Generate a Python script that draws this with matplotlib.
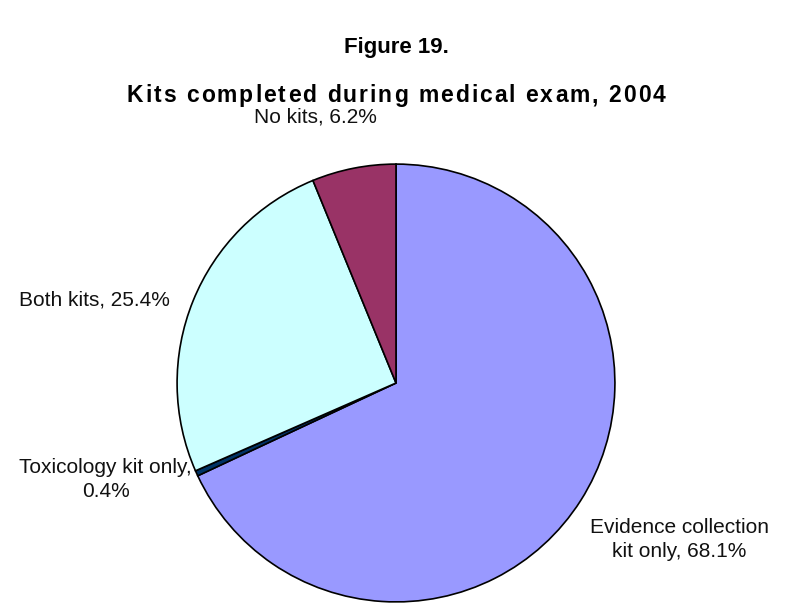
import matplotlib
matplotlib.use("Agg")
import matplotlib.pyplot as plt

categories = ["Evidence collection\nkit only", "Toxicology kit only", "Both kits", "No kits"]
values = [68.1, 0.4, 25.4, 6.2]
colors = ["#9999FF", "#003366", "#CCFFFF", "#993366"]
label_pos = [(1.293, -0.714), (-1.327, -0.441), (-1.377, 0.377), (-0.368, 1.214)]
label_sep = ["\n", ",\n", ", ", ", "]
title1 = "Figure 19."
title2 = "Kits completed during medical exam, 2004"

plt.rcParams['font.family'] = ['Liberation Sans', 'DejaVu Sans']

fig = plt.figure(figsize=(7.92, 6.06), dpi=100)
ax = fig.add_axes([(396 - 220) / 792, (606 - 603) / 606, 440 / 792, 440 / 606])
wedges, _ = ax.pie(values, colors=colors, startangle=90, counterclock=False,
                   radius=1.0, wedgeprops=dict(edgecolor="black", linewidth=1.2))
ax.set_xlim(-1.005, 1.005)
ax.set_ylim(-1.005, 1.005)
ax.set_aspect("equal")
ax.axis("off")

for cat, v, (x, y), sep in zip(categories, values, label_pos, label_sep):
    if sep == "\n":
        txt = f"{cat}, {v}%"
    else:
        txt = f"{cat}{sep}{v}%"
    ax.text(x, y, txt, ha="center", va="center", fontsize=15, color="#111111",
            linespacing=1.3, clip_on=False)

fig.text(0.5, 1 - 48 / 606, title1, ha="center", va="center",
         fontsize=16, fontweight="bold")

# second title drawn with extra letter spacing
renderer = fig.canvas.get_renderer()
fs2 = 16.5
spacing_px = 2.0
widths = []
for ch in title2:
    t = fig.text(0, 0, ch if ch != " " else "a a", fontsize=fs2, fontweight="bold")
    w = t.get_window_extent(renderer).width
    if ch == " ":
        t2 = fig.text(0, 0, "aa", fontsize=fs2, fontweight="bold")
        w = w - t2.get_window_extent(renderer).width
        t2.remove()
    t.remove()
    widths.append(w)
total = sum(widths) + spacing_px * (len(title2) - 1)
x = (792 - total) / 2
baseline = 606 - 102
for ch, w in zip(title2, widths):
    if ch != " ":
        fig.text(x / 792, baseline / 606, ch, ha="left", va="baseline",
                 fontsize=fs2, fontweight="bold")
    x += w + spacing_px

fig.savefig("out.png", dpi=100, facecolor="white")
